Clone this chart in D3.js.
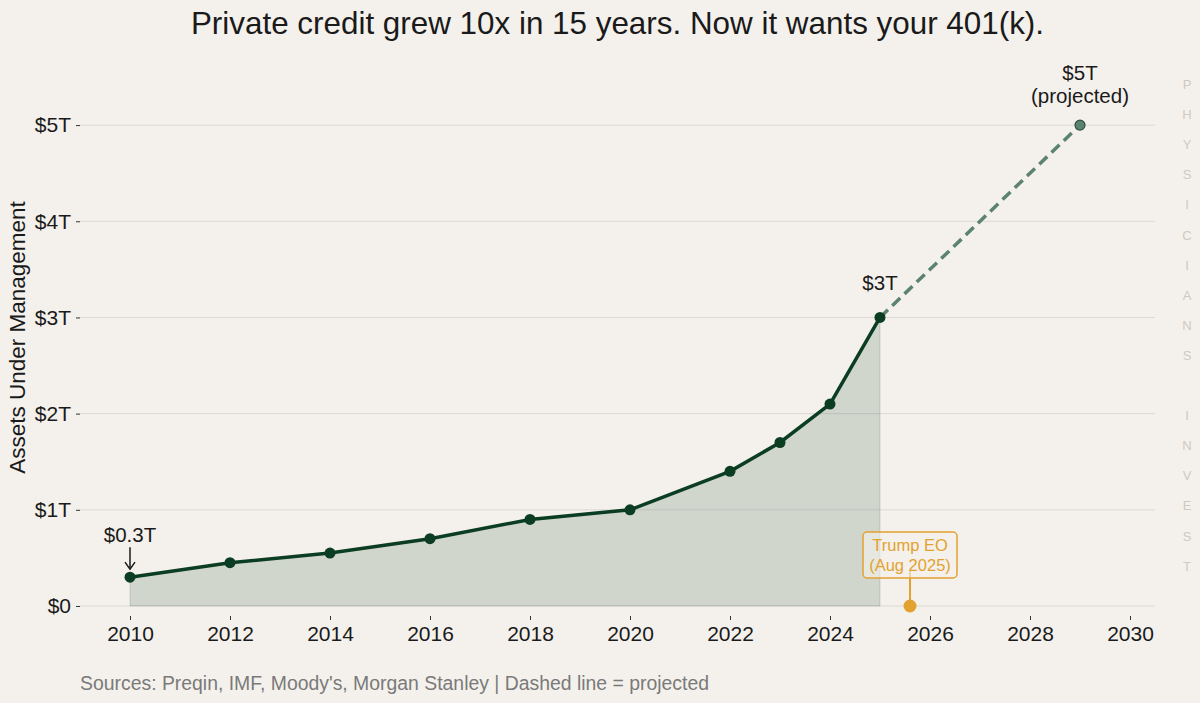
<!DOCTYPE html>
<html>
<head>
<meta charset="utf-8">
<script src="https://cdn.jsdelivr.net/npm/d3@7"></script>
<style>
  body { margin: 0; background: #f4f1ec; }
  svg { display: block; font-family: "Liberation Sans", Arial, sans-serif; }
</style>
</head>
<body>
<svg id="chart" width="1200" height="703"></svg>
<script>
// data (AUM in $ trillions)
const years = [2010, 2012, 2014, 2016, 2018, 2020, 2022, 2023, 2024, 2025];
const aum = [0.3, 0.45, 0.55, 0.7, 0.9, 1.0, 1.4, 1.7, 2.1, 3.0];
const projYears = [2025, 2029];
const projAum = [3.0, 5.0];
const eoYear = 2025.6;
const xTicks = [2010, 2012, 2014, 2016, 2018, 2020, 2022, 2024, 2026, 2028, 2030];
const yTicks = [0, 1, 2, 3, 4, 5];
const yTickLabels = ['$0', '$1T', '$2T', '$3T', '$4T', '$5T'];
const sideLetters = 'PHYSICIANS INVEST'.split('');

const dark = '#0b3d22';
const proj = '#5c8270';
const gold = '#e3a12f';

const svg = d3.select('#chart');
const mLeft = 80, mRight = 1155, mTop = 77, mBottom = 616;

const x = d3.scaleLinear().domain([2009, 2030.5]).range([mLeft, mRight]);
const y = d3.scaleLinear().domain([-0.104, 5.5]).range([mBottom, mTop]);

const pts = years.map((yr, i) => ({ yr, v: aum[i] }));
const projPts = projYears.map((yr, i) => ({ yr, v: projAum[i] }));

// gridlines
svg.append('g').selectAll('line')
    .data(yTicks).enter().append('line')
    .attr('x1', mLeft).attr('x2', mRight)
    .attr('y1', d => y(d)).attr('y2', d => y(d))
    .attr('stroke', '#dcd9d3').attr('stroke-width', 1);

// y axis
const yAxis = svg.append('g')
    .attr('transform', `translate(${mLeft},0)`)
    .call(d3.axisLeft(y).tickValues(yTicks).tickFormat((d, i) => yTickLabels[i]).tickSize(4).tickPadding(5));
yAxis.select('.domain').remove();
yAxis.selectAll('line').attr('stroke', '#333');
yAxis.selectAll('text').attr('font-size', 21).attr('fill', '#1a1a1a').attr('font-family', 'Liberation Sans');

// x axis
const xAxis = svg.append('g')
    .attr('transform', `translate(0,${mBottom})`)
    .call(d3.axisBottom(x).tickValues(xTicks).tickFormat(d3.format('d')).tickSize(4).tickPadding(6));
xAxis.select('.domain').remove();
xAxis.selectAll('line').attr('stroke', '#333');
xAxis.selectAll('text').attr('font-size', 21).attr('fill', '#1a1a1a').attr('font-family', 'Liberation Sans');

// shaded area under actuals
svg.append('path')
    .datum(pts)
    .attr('d', d3.area().x(d => x(d.yr)).y0(y(0)).y1(d => y(d.v)))
    .attr('fill', dark).attr('fill-opacity', 0.15)
    .attr('stroke', dark).attr('stroke-opacity', 0.15);

// projected dashed line
svg.append('path')
    .datum(projPts)
    .attr('d', d3.line().x(d => x(d.yr)).y(d => y(d.v)))
    .attr('fill', 'none').attr('stroke', proj)
    .attr('stroke-width', 3.5).attr('stroke-dasharray', '11,6');

// actual line
svg.append('path')
    .datum(pts)
    .attr('d', d3.line().x(d => x(d.yr)).y(d => y(d.v)))
    .attr('fill', 'none').attr('stroke', dark).attr('stroke-width', 3.5);

svg.append('g').selectAll('circle')
    .data(pts).enter().append('circle')
    .attr('cx', d => x(d.yr)).attr('cy', d => y(d.v)).attr('r', 5.5)
    .attr('fill', dark);

svg.append('circle')
    .attr('cx', x(projPts[1].yr)).attr('cy', y(projPts[1].v)).attr('r', 5)
    .attr('fill', proj).attr('stroke', '#2f4f3e').attr('stroke-width', 1.2);

// annotations
const ann = svg.append('g').attr('font-size', 20.5).attr('fill', '#1a1a1a').attr('text-anchor', 'middle');
ann.append('text').attr('x', x(2010)).attr('y', y(0.3) - 35).text('$0.3T');
svg.append('line')
    .attr('x1', x(2010)).attr('x2', x(2010))
    .attr('y1', y(0.3) - 30).attr('y2', y(0.3) - 9)
    .attr('stroke', '#1a1a1a').attr('stroke-width', 1.5);
svg.append('path')
    .attr('d', `M${x(2010) - 5},${y(0.3) - 15} L${x(2010)},${y(0.3) - 8} L${x(2010) + 5},${y(0.3) - 15}`)
    .attr('fill', 'none').attr('stroke', '#1a1a1a').attr('stroke-width', 1.5);

ann.append('text').attr('x', x(2025)).attr('y', y(3) - 27).text('$3T');
ann.append('text').attr('x', x(2029)).attr('y', y(5) - 45).text('$5T');
ann.append('text').attr('x', x(2029)).attr('y', y(5) - 22).text('(projected)');

// Trump EO marker
svg.append('circle')
    .attr('cx', x(eoYear)).attr('cy', y(0)).attr('r', 6.5).attr('fill', gold);
svg.append('line')
    .attr('x1', x(eoYear)).attr('x2', x(eoYear))
    .attr('y1', y(0) + 6).attr('y2', y(0) - 35)
    .attr('stroke', gold).attr('stroke-width', 2);
svg.append('rect')
    .attr('x', x(eoYear) - 47).attr('y', y(0) - 74).attr('width', 94).attr('height', 46)
    .attr('rx', 4).attr('fill', '#f4f1ec').attr('fill-opacity', 0.6)
    .attr('stroke', gold).attr('stroke-width', 1.5);
const eo = svg.append('g').attr('font-size', 16.5).attr('fill', gold).attr('text-anchor', 'middle');
eo.append('text').attr('x', x(eoYear)).attr('y', y(0) - 55).text('Trump EO');
eo.append('text').attr('x', x(eoYear)).attr('y', y(0) - 35).text('(Aug 2025)');

// title, axis label, source
svg.append('text').attr('x', 617.5).attr('y', 34).attr('text-anchor', 'middle')
    .attr('font-size', 31.4).attr('fill', '#1a1a1a')
    .text('Private credit grew 10x in 15 years. Now it wants your 401(k).');

svg.append('text')
    .attr('transform', `translate(25,${(y(0) + y(5)) / 2 - 28}) rotate(-90)`)
    .attr('text-anchor', 'middle').attr('font-size', 22.5).attr('fill', '#1a1a1a')
    .text('Assets Under Management');

svg.append('text').attr('x', 80).attr('y', 690)
    .attr('font-size', 19.4).attr('fill', '#7a7a7a')
    .text("Sources: Preqin, IMF, Moody's, Morgan Stanley | Dashed line = projected");

// vertical watermark letters
svg.append('g').selectAll('text')
    .data(sideLetters).enter().append('text')
    .attr('x', 1187).attr('y', (d, i) => 89 + i * 30.1)
    .attr('text-anchor', 'middle').attr('font-size', 13).attr('fill', '#cdcac5')
    .text(d => d);
</script>
</body>
</html>
